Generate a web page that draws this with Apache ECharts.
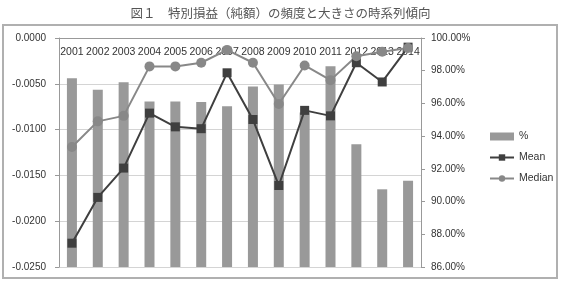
<!DOCTYPE html>
<html><head><meta charset="utf-8">
<script src="https://cdn.jsdelivr.net/npm/echarts@6/dist/echarts.min.js"></script>
<style>html,body{margin:0;padding:0;background:#fff}#c{width:561px;height:282px}</style>
</head><body><div id="c"></div>
<script>
const title = '図１　特別損益（純額）の頻度と大きさの時系列傾向';
const years = ['2001','2002','2003','2004','2005','2006','2007','2008','2009','2010','2011','2012','2013','2014'];
const pct = [97.54, 96.83, 97.30, 96.12, 96.12, 96.08, 95.82, 97.04, 97.16, 95.45, 98.27, 93.50, 90.75, 91.27];
const mean = [-0.0224, -0.0174, -0.0142, -0.0082, -0.0097, -0.0099, -0.0038, -0.0089, -0.0161, -0.0079, -0.0085, -0.0027, -0.0048, -0.0010];
const median = [-0.0119, -0.0091, -0.0085, -0.0031, -0.0031, -0.0027, -0.0013, -0.0027, -0.0072, -0.0030, -0.0046, -0.0020, -0.0015, -0.0011];
const leftTicks = {min: -0.025, max: 0, interval: 0.005};
const rightTicks = {min: 86, max: 100, interval: 2};

const font = '"Liberation Sans", Arial, sans-serif';
const chart = echarts.init(document.getElementById('c'), null, {renderer: 'canvas'});
chart.setOption({
  animation: false,
  backgroundColor: '#fff',
  title: {text: title, left: 'center', top: 2,
    textStyle: {fontFamily: '"Noto Sans CJK JP", sans-serif', fontSize: 12.5, fontWeight: 'normal', color: '#555'}},
  graphic: [{type: 'rect', shape: {x: 3, y: 25, width: 554, height: 253},
    style: {fill: 'none', stroke: '#b0b0b0', lineWidth: 2}, silent: true}],
  grid: {left: 59, right: 140, top: 38, bottom: 15},
  legend: {orient: 'vertical', left: 484, top: 126, itemGap: 10, itemWidth: 24, itemHeight: 8,
    textStyle: {fontFamily: font, fontSize: 10.5, color: '#333'},
    data: [{name: '%', icon: 'rect'}, {name: 'Mean'}, {name: 'Median'}]},
  xAxis: {type: 'category', data: years, position: 'top',
    axisLine: {onZero: false, lineStyle: {color: '#999', width: 1}},
    axisTick: {inside: true, length: 5, lineStyle: {color: '#999'}},
    axisLabel: {inside: true, margin: 9, fontFamily: font, fontSize: 10.5, color: '#333', interval: 0}},
  yAxis: [
    {type: 'value', min: leftTicks.min, max: leftTicks.max, interval: leftTicks.interval,
      axisLine: {show: true, lineStyle: {color: '#999'}},
      axisTick: {show: true, length: 4, lineStyle: {color: '#999'}},
      axisLabel: {formatter: v => v.toFixed(4), fontFamily: font, fontSize: 10, color: '#333', margin: 13},
      splitLine: {show: true, lineStyle: {color: '#d4d4d4'}}},
    {type: 'value', min: rightTicks.min, max: rightTicks.max, interval: rightTicks.interval, position: 'right',
      axisLine: {show: true, lineStyle: {color: '#999'}},
      axisTick: {show: true, length: 4, lineStyle: {color: '#999'}},
      axisLabel: {formatter: v => v.toFixed(2) + '%', fontFamily: font, fontSize: 10, color: '#333', margin: 10},
      splitLine: {show: false}}
  ],
  series: [
    {name: '%', type: 'bar', yAxisIndex: 1, data: pct, barWidth: 10,
      itemStyle: {color: '#999999'}},
    {name: 'Mean', type: 'line', yAxisIndex: 0, data: mean, symbol: 'rect', symbolSize: 9,
      lineStyle: {color: '#3f3f3f', width: 2}, itemStyle: {color: '#3f3f3f'}},
    {name: 'Median', type: 'line', yAxisIndex: 0, data: median, symbol: 'circle', symbolSize: 10,
      lineStyle: {color: '#888888', width: 2}, itemStyle: {color: '#888888'}}
  ]
});
</script></body></html>
